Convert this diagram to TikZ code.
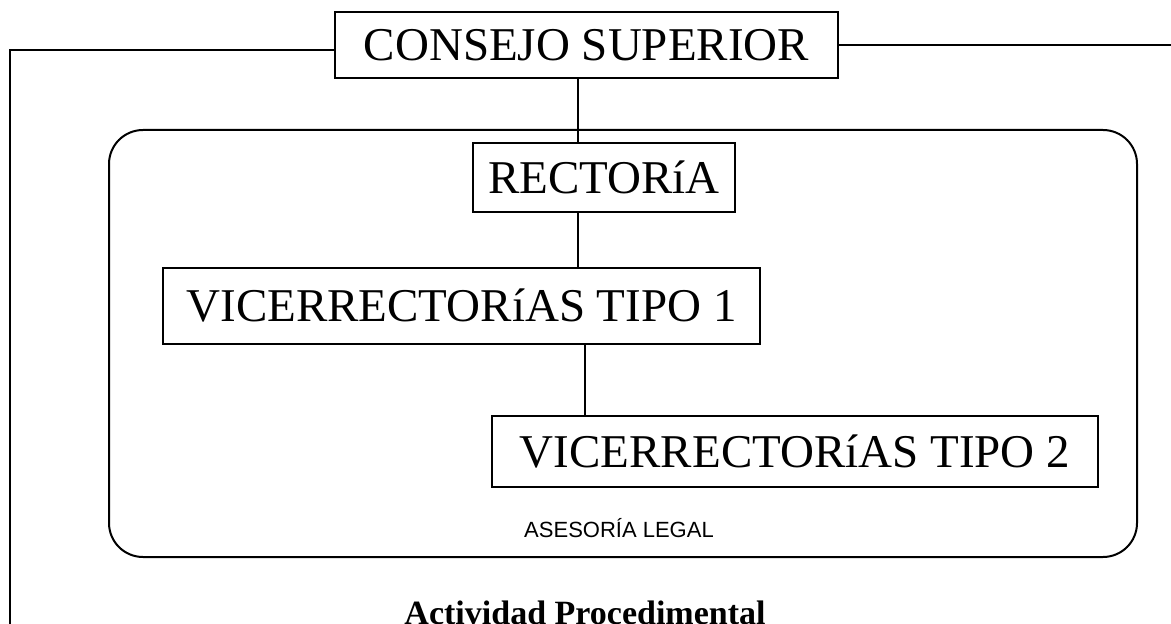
\documentclass[tikz,border=0pt]{standalone}
\usepackage{fontspec}
\setmainfont{Liberation Serif}
\setsansfont{Liberation Sans}
\usetikzlibrary{positioning,calc}

\begin{document}
\begin{tikzpicture}[x=0.5pt,y=-0.5pt,
	orgbox/.style={draw, line width=1.3pt, inner sep=0pt, font=\fontsize{23.5}{26}\selectfont},
	link/.style={line width=1.2pt}]
	\useasboundingbox (0,0) rectangle (1171,624);
	\clip (0,0) rectangle (1171,624);
	
	% marco de la asesoria
	\draw[line width=1pt, rounded corners=17pt] (109,130) rectangle (1137,557);
	
	\node[orgbox, minimum width=251.5pt, minimum height=33pt] (consejo) at (586.5,45) {CONSEJO SUPERIOR};
	\node[orgbox, minimum width=131pt, minimum height=34.5pt] (rector) at (604,177.5) {RECTORíA};
	\node[orgbox, minimum width=298.5pt, minimum height=38pt] (tipo1) at (461.5,306) {VICERRECTORíAS TIPO 1};
	\node[orgbox, minimum width=303pt, minimum height=35.5pt] (tipo2) at (795,451.5) {VICERRECTORíAS TIPO 2};
	\node[font=\sffamily\fontsize{11}{13}\selectfont] (asesoria) at (619,528) {ASESORÍA LEGAL};
	\node[anchor=north, font=\bfseries\fontsize{17}{20}\selectfont] (actividad) at (585,594) {Actividad Procedimental};
	
	\coordinate (c1) at (578,0);
	\coordinate (c2) at (585,0);
	\coordinate (lcorner) at (10,50);
	\coordinate (lbottom) at (10,640);
	\coordinate (rend) at (1180,45);
	
	\draw[link] (consejo.west |- lcorner) -- (lcorner) -- (lbottom);
	\draw[link] (consejo.east |- rend) -- (rend);
	\draw[link] (consejo.south -| c1) -- (rector.north -| c1);
	\draw[link] (rector.south -| c1) -- (tipo1.north -| c1);
	\draw[link] (tipo1.south -| c2) -- (tipo2.north -| c2);
\end{tikzpicture}
\end{document}
